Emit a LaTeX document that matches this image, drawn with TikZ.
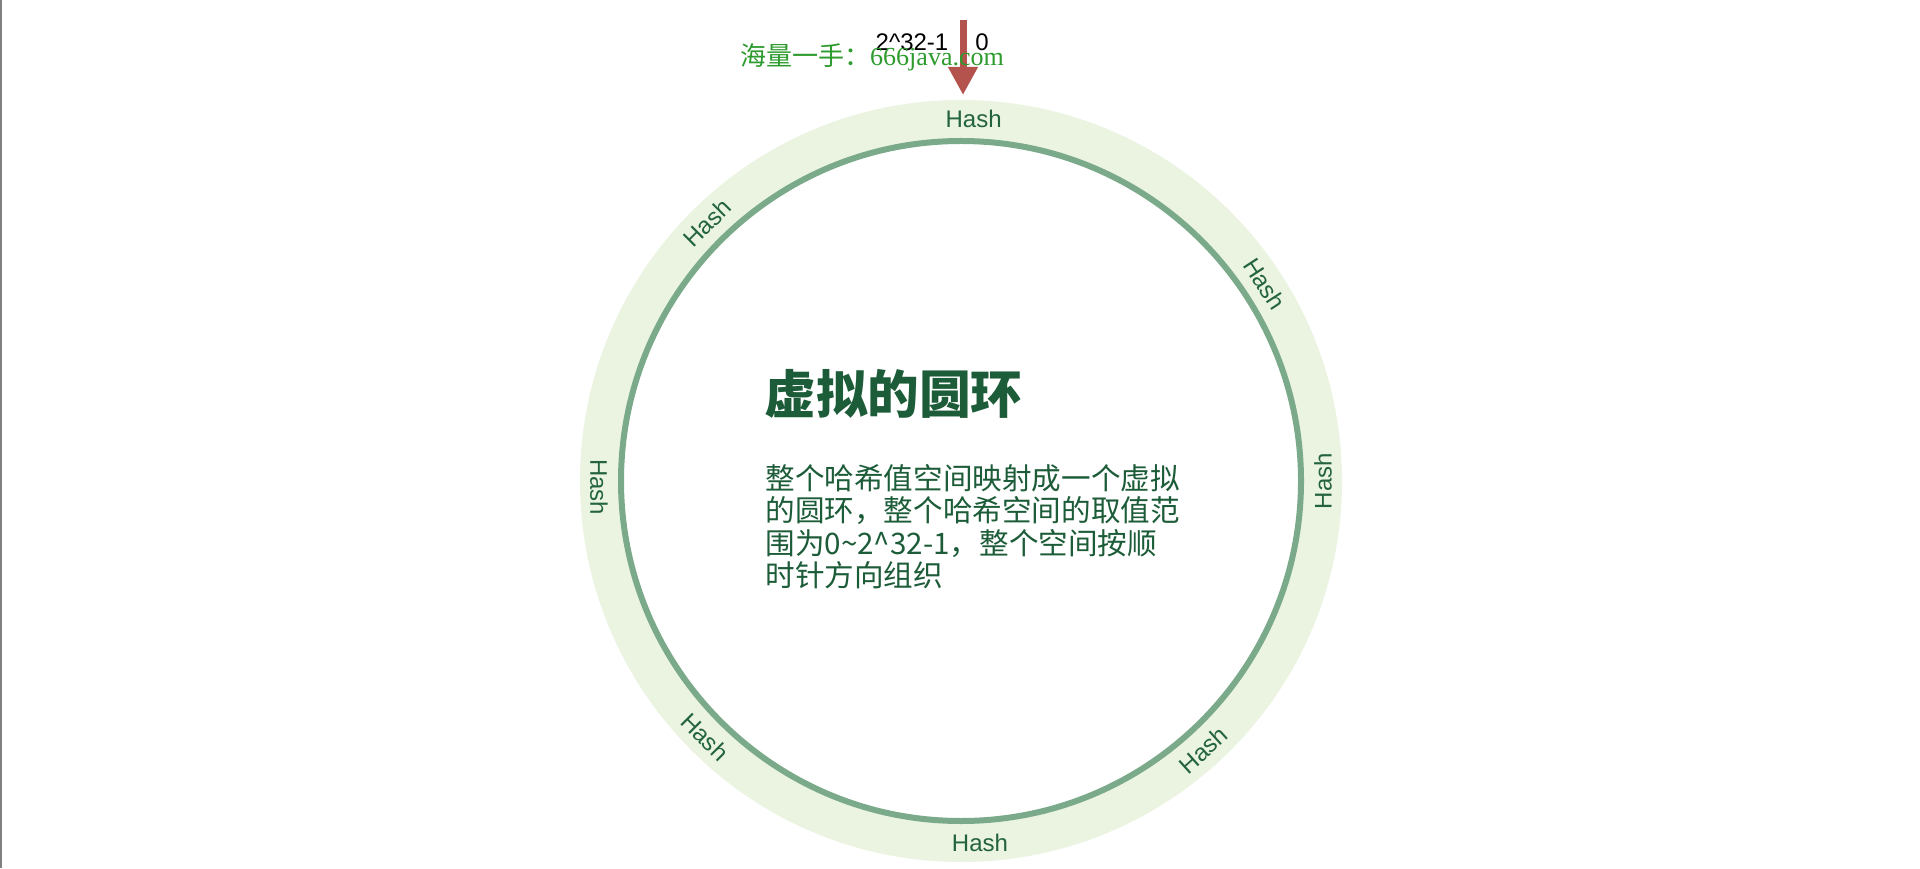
\documentclass[tikz,border=0pt]{standalone}
\usepackage{fontspec}
\setmainfont{Liberation Sans}
\newfontfamily\cjkfont{Noto Sans CJK SC}
\newfontfamily\wmserif{Liberation Serif}
\usetikzlibrary{arrows.meta,calc}

\definecolor{ringfill}{RGB}{234,244,225}
\definecolor{trackline}{RGB}{123,170,139}
\definecolor{hashgreen}{RGB}{35,100,60}
\definecolor{titlegreen}{RGB}{28,92,56}
\definecolor{pointerred}{RGB}{180,82,78}
\definecolor{markgreen}{RGB}{45,155,45}
\newcommand\descfont{\cjkfont\fontsize{14.8}{16.25}\selectfont\setlength{\lineskiplimit}{-20pt}}

\begin{document}
\begin{tikzpicture}[
    x=0.5pt, y=0.5pt,
    ring/.style={circle, inner sep=0pt, fill=ringfill, minimum size=381pt},
    track/.style={circle, inner sep=0pt, draw=trackline, line width=3pt, fill=white, minimum size=340pt},
    hashlabel/.style={font=\fontsize{12}{14}\selectfont, text=hashgreen, inner sep=0pt},
    endlabel/.style={font=\fontsize{12}{14}\selectfont, inner sep=0pt},
    headline/.style={font=\cjkfont\bfseries\fontsize{25.8}{30}\selectfont, text=titlegreen, inner sep=0pt},
    desc/.style={font=\descfont, text=titlegreen, align=left, inner sep=0pt},
    wmtext/.style={font=\fontsize{13}{15}\selectfont, text=markgreen, inner sep=0pt},
    pointer/.style={-{Triangle[length=14pt, width=14pt]}, line width=3.5pt, draw=pointerred}
  ]
    \useasboundingbox[fill=white] (0,0) rectangle (1920,868);
    \draw[gray, line width=1pt] (1,0) -- (1,868);

    % hash ring
    \coordinate (c) at (961,387);
    \node[ring] (ring) at (c) {};
    \node[track] (track) at (c) {};
    \foreach \ang/\rot [count=\i] in {88/0, 33/-57, 0/90, -48/42, -87/0, -135/-45, 181/-90, 134.5/45}
      \node[hashlabel, rotate=\rot] (hash\i) at ($(c)+(\ang:362)$) {Hash};

    % start point
    \node[endlabel] (maxval) at (912,826) {2\textasciicircum32-1};
    \node[endlabel] (zero) at (982,826) {0};
    \coordinate (pointertail) at (963,848);
    \coordinate (pointertip) at (963,773);
    \draw[pointer] (pointertail) -- (pointertip);
    \node[wmtext] (watermark) at (872,811) {\cjkfont 海量一手：\wmserif 666java.com};

    % text
    \node[headline, anchor=west] (heading) at (764,474) {虚拟的圆环};
    \node[desc, anchor=north west] (body) at (765,404) {整个哈希值空间映射成一个虚拟\\的圆环，整个哈希空间的取值范\\围为0\textasciitilde2\textasciicircum32-1，整个空间按顺\\时针方向组织};
  \end{tikzpicture}
\end{document}
